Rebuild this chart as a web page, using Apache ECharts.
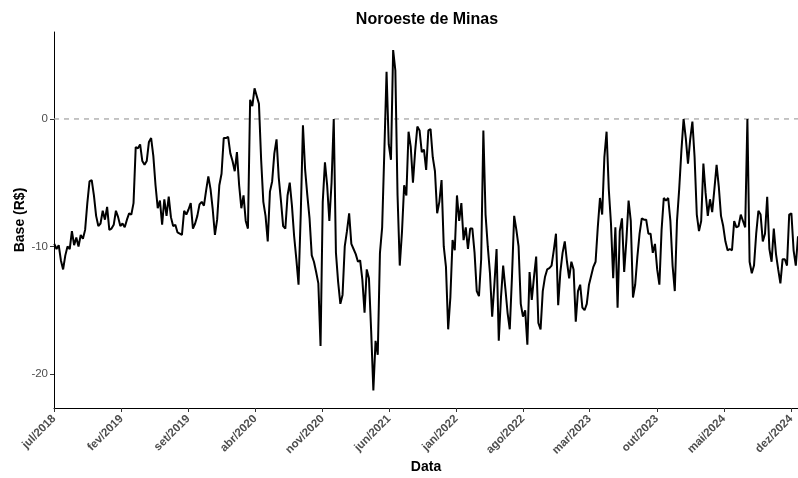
<!DOCTYPE html>
<html><head><meta charset="utf-8">
<script src="https://cdn.jsdelivr.net/npm/echarts@6/dist/echarts.min.js"></script>
<style>html,body{margin:0;padding:0;background:#fff}#c{width:798px;height:478px}</style>
</head><body><div id="c"></div>
<script>
// ---- data ----
const startDate = '2018-07-02';
const stepDays = 7;
const baseValues = [
-9.8,-10.2,-9.9,-11.1,-11.8,-10.7,-10.0,-10.2,-8.8,-9.9,
-9.3,-10.0,-9.1,-9.4,-8.7,-6.6,-4.9,-4.8,-6.0,-7.6,
-8.4,-8.2,-7.2,-7.9,-6.9,-8.7,-8.6,-8.3,-7.2,-7.7,
-8.4,-8.2,-8.5,-7.9,-7.4,-7.5,-6.6,-2.2,-2.3,-2.0,
-3.3,-3.6,-3.3,-1.8,-1.5,-2.9,-5.2,-7.0,-6.4,-8.3,
-6.3,-7.6,-6.1,-7.7,-8.4,-8.3,-8.9,-9.0,-9.1,-7.2,
-7.5,-7.1,-6.6,-8.6,-8.2,-7.6,-6.7,-6.5,-6.8,-5.6,
-4.5,-5.5,-7.1,-9.1,-7.9,-5.2,-4.3,-1.5,-1.5,-1.4,
-2.7,-3.3,-4.1,-2.6,-5.2,-7.0,-6.0,-8.0,-8.6,1.5,
1.0,2.4,1.8,1.2,-3.2,-6.5,-7.6,-9.6,-5.7,-4.9,
-2.7,-1.6,-4.6,-6.4,-8.4,-8.6,-6.0,-5.0,-6.8,-9.2,
-11.0,-13.0,-7.5,-0.5,-4.0,-6.0,-7.8,-10.7,-11.2,-12.0,
-12.9,-17.8,-6.5,-3.4,-5.2,-8.0,-5.0,0.0,-10.5,-12.8,
-14.5,-13.8,-10.0,-8.8,-7.4,-9.8,-10.2,-10.6,-11.2,-11.1,
-12.6,-15.2,-11.8,-12.5,-16.6,-21.3,-17.4,-18.5,-10.5,-8.5,
-2.5,3.7,-2.0,-3.2,5.4,3.8,-6.0,-11.5,-8.9,-5.2,
-6.0,-1.0,-2.2,-5.0,-2.5,-0.6,-0.9,-2.6,-2.4,-4.0,
-0.9,-0.8,-3.0,-4.1,-7.4,-6.5,-4.8,-10.0,-11.6,-16.5,
-14.0,-9.5,-10.3,-6.0,-8.0,-6.6,-9.5,-8.5,-10.2,-8.6,
-8.6,-10.5,-13.5,-13.9,-11.0,-0.9,-7.5,-10.0,-12.1,-15.5,
-13.0,-10.2,-17.4,-14.0,-11.5,-13.3,-15.2,-16.5,-12.4,-7.6,
-8.7,-10.0,-14.5,-15.5,-15.0,-17.7,-12.0,-14.2,-12.4,-10.8,
-16.0,-16.5,-13.5,-12.4,-11.8,-11.7,-11.5,-10.3,-9.0,-14.6,
-12.0,-10.5,-9.6,-11.2,-12.5,-11.2,-11.8,-15.9,-13.5,-13.0,
-14.8,-15.0,-14.5,-13.0,-12.3,-11.6,-11.2,-8.5,-6.2,-7.5,
-3.0,-1.0,-5.5,-8.2,-12.5,-8.5,-14.8,-8.8,-7.8,-12.0,
-9.5,-6.4,-8.0,-14.0,-13.0,-10.8,-9.0,-7.8,-7.9,-7.9,
-9.0,-9.0,-10.5,-9.8,-11.8,-13.0,-8.7,-6.2,-6.4,-6.2,
-8.0,-11.5,-13.5,-8.0,-5.5,-2.5,0.0,-1.5,-3.5,-1.6,
-0.2,-3.0,-7.5,-8.8,-8.0,-3.5,-5.8,-7.6,-6.3,-7.3,
-5.5,-3.6,-5.3,-7.6,-8.4,-9.6,-10.3,-10.2,-10.3,-8.0,
-8.5,-8.4,-7.5,-8.0,-8.5,0.0,-11.2,-12.1,-11.5,-9.0,
-7.2,-7.5,-9.6,-9.0,-6.1,-10.2,-11.2,-8.6,-10.6,-11.8,
-12.9,-11.0,-11.0,-11.5,-7.5,-7.4,-10.3,-11.5,-9.2
];
const xTickDates = ['2018-07-01','2019-02-01','2019-09-01','2020-04-01','2020-11-01','2021-06-01',
  '2022-01-01','2022-08-01','2023-03-01','2023-10-01','2024-05-01','2024-12-01'];
const xTickLabels = ['jul/2018','fev/2019','set/2019','abr/2020','nov/2020','jun/2021',
  'jan/2022','ago/2022','mar/2023','out/2023','mai/2024','dez/2024'];
const yTicks = [-20, -10, 0];
const refValue = 0;

// ---- build ----
const DAY = 86400000;
const origin = Date.UTC(2018, 6, 1);
function dayOffset(s) { const p = s.split('-').map(Number); return (Date.UTC(p[0], p[1]-1, p[2]) - origin) / DAY; }
const start = dayOffset(startDate);
const seriesData = baseValues.map((v, i) => [start + i * stepDays, v]);
const xTickPos = xTickDates.map(dayOffset);
const labelMap = {};
xTickPos.forEach((p, i) => { labelMap[p] = xTickLabels[i]; });
const xMax = seriesData[seriesData.length - 1][0];
const refData = [[0, refValue], [xMax, refValue]];

const FONT = "'Liberation Sans', Arial, sans-serif";
const chart = echarts.init(document.getElementById('c'), null, { renderer: 'canvas' });
chart.setOption({
  animation: false,
  backgroundColor: '#ffffff',
  title: {
    text: 'Noroeste de Minas', left: 422, top: 7, textAlign: 'center',
    textStyle: { fontFamily: FONT, fontWeight: 'bold', fontSize: 16, color: '#000' }
  },
  grid: { left: 54, right: 0, top: 32, bottom: 70, containLabel: false, outerBoundsMode: 'none' },
  xAxis: {
    type: 'value', min: 0, max: xMax,
    name: 'Data', nameLocation: 'middle', nameGap: 52, nameMoveOverlap: false,
    nameTextStyle: { fontFamily: FONT, fontWeight: 'bold', fontSize: 14, color: '#000' },
    axisLine: { show: true, onZero: false, lineStyle: { color: '#000', width: 1 } },
    axisTick: { show: true, length: 4, customValues: xTickPos, lineStyle: { color: '#333', width: 1 } },
    axisLabel: {
      customValues: xTickPos, rotate: 45, margin: 9,
      formatter: v => labelMap[v] || '',
      fontFamily: FONT, fontWeight: 'bold', fontSize: 11.5, color: '#4d4d4d'
    },
    splitLine: { show: false }
  },
  yAxis: {
    type: 'value', min: -22.67, max: 6.82,
    name: 'Base (R$)', nameLocation: 'middle', nameGap: 27, nameRotate: 90, nameMoveOverlap: false,
    nameTextStyle: { fontFamily: FONT, fontWeight: 'bold', fontSize: 14, color: '#000' },
    axisLine: { show: true, onZero: false, lineStyle: { color: '#000', width: 1 } },
    axisTick: { show: true, length: 4, customValues: yTicks, lineStyle: { color: '#333', width: 1 } },
    axisLabel: {
      customValues: yTicks, margin: 6,
      fontFamily: FONT, fontSize: 11.5, color: '#4d4d4d'
    },
    splitLine: { show: false }
  },
  series: [{
    type: 'line', data: refData, showSymbol: false, symbol: 'none', silent: true, z: 1,
    lineStyle: { type: [5, 5], color: '#a6a6a6', width: 1.3 }
  }, {
    type: 'line', data: seriesData, showSymbol: false, symbol: 'none',
    lineStyle: { color: '#000', width: 2 }, clip: true, z: 3
  }]
});
</script>
</body></html>
